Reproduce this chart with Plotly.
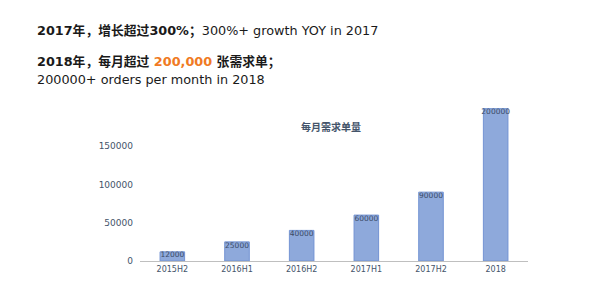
import plotly.graph_objects as go

# Monthly order demand by period
periods = ["2015H2", "2016H1", "2016H2", "2017H1", "2017H2", "2018"]
orders = [12000, 25000, 40000, 60000, 90000, 200000]
value_labels = ["12000", "25000", "40000", "60000", "90000", "200000"]
y_ticks = [0, 50000, 100000, 150000]

chart_title = "每月需求单量"
line1 = "<b>2017年，增长超过300%；</b>300%+ growth YOY in 2017"
line2 = "<b>2018年，每月超过 <span style='color:#F07A23'>200,000</span> 张需求单；</b>"
line3 = "200000+ orders per month in 2018"

FONT = "DejaVu Sans, Noto Sans CJK SC, sans-serif"
AXIS_TXT = "#44546A"

fig = go.Figure()
fig.add_trace(go.Bar(
    x=periods, y=orders,
    marker=dict(color="#8EA9DB", line=dict(color="#7393D3", width=1)),
    hoverinfo="skip",
))
fig.add_trace(go.Scatter(
    x=periods, y=orders, mode="text",
    text=value_labels, textposition="bottom center",
    textfont=dict(size=7.5, color="#3A4A66", family=FONT),
    hoverinfo="skip", cliponaxis=False,
))

L, R, T, B = 140, 72, 108, 40
pw = 600 - L - R
ph = 301 - T - B

def px_x(px):
    return (px - L) / pw

def px_y(py):
    return (301 - B - py) / ph

annotations = [
    dict(text=line1, x=px_x(35), y=px_y(31), xanchor="left", yanchor="middle",
         font=dict(size=12.8, color="#1A1A1A", family=FONT)),
    dict(text=line2, x=px_x(35), y=px_y(62), xanchor="left", yanchor="middle",
         font=dict(size=12.8, color="#1A1A1A", family=FONT)),
    dict(text=line3, x=px_x(35), y=px_y(79), xanchor="left", yanchor="middle",
         font=dict(size=12.8, color="#1A1A1A", family=FONT)),
    dict(text="<b>" + chart_title + "</b>", x=px_x(331), y=px_y(127),
         xanchor="center", yanchor="middle",
         font=dict(size=10, color=AXIS_TXT, family=FONT)),
]
for a in annotations:
    a.update(xref="paper", yref="paper", showarrow=False)

fig.update_layout(
    width=600, height=301,
    margin=dict(l=L, r=R, t=T, b=B),
    paper_bgcolor="white", plot_bgcolor="white",
    showlegend=False, bargap=0.62,
    annotations=annotations,
    font=dict(family=FONT),
)
fig.update_xaxes(
    showline=True, linecolor="#BFBFBF", linewidth=1,
    showgrid=False, ticks="", tickfont=dict(size=8, color=AXIS_TXT, family=FONT),
)
fig.update_yaxes(
    range=[0, 200000], tickvals=y_ticks, ticktext=[str(v) for v in y_ticks],
    showgrid=False, zeroline=False, showline=False, ticks="",
    tickfont=dict(size=9, color=AXIS_TXT, family=FONT), ticklabelstandoff=6,
)

fig.write_html("out.html")
